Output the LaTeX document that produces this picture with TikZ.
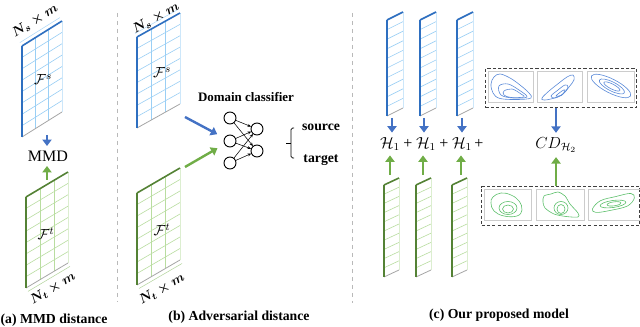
\documentclass[tikz,border=0pt]{standalone}
\usepackage[no-math]{fontspec}
\setmainfont{Liberation Serif}
\usetikzlibrary{arrows.meta}
\definecolor{bdark}{HTML}{2E6FC0}
\definecolor{blight}{HTML}{9ACFF5}
\definecolor{barr}{HTML}{4472C4}
\definecolor{gdark}{HTML}{548235}
\definecolor{glight}{HTML}{B9DDA0}
\definecolor{garr}{HTML}{70AD47}
\definecolor{bcont}{HTML}{5A8AD8}
\definecolor{gcont}{HTML}{5CBF6A}
\newcommand{\FeatMat}[9]{%
 \begin{scope}[shift={(#1,#2)}]
  \fill[white] (0,0) -- (#3,-#4) -- (#3,#5-#4) -- (0,#5) -- cycle;
  \pgfmathtruncatemacro{\fmRows}{#7-1}
  \foreach \i in {1,...,\fmRows}{\draw[#9, line width=0.45pt] (0,{\i*#5/#7}) -- (#3,{\i*#5/#7-#4});}
  \ifnum#6>1 \pgfmathtruncatemacro{\fmCols}{#6-1}
   \foreach \j in {1,...,\fmCols}{\draw[#9, line width=0.45pt] ({\j*#3/#6},{-\j*#4/#6}) -- ({\j*#3/#6},{#5-\j*#4/#6});}\fi
  \draw[#9!50, line width=0.4pt] (#3,-#4) -- (#3,#5-#4);
  \draw[gray!70, line width=0.6pt] (0,#5) -- (#3,#5-#4);
  \draw[#8, line width=1.2pt] (0,0) -- (#3,-#4);
  \draw[#8, line width=1.8pt] (0,#5) -- (0,0);
 \end{scope}}
\tikzset{
 barrow/.style={-{Triangle[length=4.8pt,width=6.8pt]}, line width=1.8pt, barr},
 garrow/.style={-{Triangle[length=4.8pt,width=6.8pt]}, line width=1.8pt, garr},
 lbl/.style={font=\fontsize{10.3}{12}\selectfont\bfseries, inner sep=0pt},
 dimlbl/.style={font=\fontsize{10}{12}\selectfont\boldmath, inner sep=0pt},
 flbl/.style={font=\fontsize{11}{13}\selectfont, inner sep=0pt},
 hlbl/.style={font=\fontsize{12}{14}\selectfont},
 neuron/.style={circle, draw, line width=0.7pt, minimum size=9pt, inner sep=0pt},
 nnarrow/.style={-{Stealth[length=2.6pt,width=2.2pt]}, line width=0.4pt},
 sep/.style={gray!55, dashed, line width=0.6pt},
 dbox/.style={draw=black!75, dash pattern=on 2.4pt off 1.6pt, line width=0.9pt, inner sep=0pt, anchor=north west},
 pframe/.style={draw=gray!40, line width=0.6pt},
 bc/.style={bcont, line width=0.45pt},
 gc/.style={gcont, line width=0.45pt},
}
\begin{document}
\begin{tikzpicture}[x=0.75pt,y=-0.75pt]
\useasboundingbox (0,0) rectangle (640,327);
% separators
\draw[sep] (117,13) -- (117,302);
\draw[sep] (352,13) -- (352,303);

% ---------------- (a) ----------------
\FeatMat{22}{46}{40}{25}{91}{3}{8}{bdark}{blight}
\FeatMat{26}{197}{42}{25}{91}{3}{8}{gdark}{glight}
\draw[blight!80, line width=0.4pt] (19.9,42.6) -- (59.9,17.6);
\draw[glight!90!gray, line width=0.4pt] (28.0,291.4) -- (70.0,266.4);
\node[dimlbl, rotate=32] (nsa) at (35,21) {$N_s\times m$};
\node[dimlbl, rotate=31] (nta) at (53,288) {$N_t\times m$};
\node[flbl] (fsa) at (43,80) {$\mathcal{F}^s$};
\node[flbl] (fta) at (46,234) {$\mathcal{F}^t$};
\node[font=\fontsize{12}{14}\selectfont] (mmd) at (48,156) {MMD};
\coordinate (ma) at (47,135);
\coordinate (mb) at (47,180);
\draw[barrow] (ma) -- (ma |- mmd.north);
\draw[garrow] (mb) -- (mb |- mmd.south);
\node[lbl] (capa) at (54,320) {(a) MMD distance};

% ---------------- (b) ----------------
\FeatMat{137}{37}{43}{24}{91}{3}{8}{bdark}{blight}
\FeatMat{137}{193}{43}{25}{92}{3}{8}{gdark}{glight}
\draw[blight!80, line width=0.4pt] (135,33.5) -- (178,9.5);
\draw[glight!90!gray, line width=0.4pt] (139,288.5) -- (182,263.5);
\node[dimlbl, rotate=29] (nsb) at (156,18) {$N_s\times m$};
\node[dimlbl, rotate=30] (ntb) at (162,289) {$N_t\times m$};
\node[flbl] (fsb) at (162,73) {$\mathcal{F}^s$};
\node[flbl] (ftb) at (162,230) {$\mathcal{F}^t$};
\node[lbl, font=\fontsize{9.7}{12}\selectfont\bfseries] (dc) at (246,97) {Domain classifier};
\node[neuron] (i1) at (230,118) {};
\node[neuron] (i2) at (230,141) {};
\node[neuron] (i3) at (230,163) {};
\node[neuron] (o1) at (257,129) {};
\node[neuron] (o2) at (257,151) {};
\foreach \a in {i1,i2,i3}{\foreach \b in {o1,o2}{\draw[nnarrow] (\a) -- (\b);}}
\coordinate (bn) at (185,117);
\coordinate (gn) at (185,167);
\draw[barrow, shorten >=6pt] (bn) -- (i2);
\draw[garrow, shorten >=6pt] (gn) -- (i2);
\draw[line width=0.6pt, rounded corners=1.2pt] (294,128) -- (291,128) -- (291,158) -- (294,158);
\draw[line width=0.6pt] (286,143) -- (291,143);
\node[lbl] (src) at (321,127) {source};
\node[lbl] (tgt) at (321,160) {target};
\node[lbl] (capb) at (239,317) {(b) Adversarial distance};

% ---------------- (c) ----------------
\FeatMat{387}{20}{16}{8}{96}{1}{10}{bdark}{blight}
\FeatMat{420}{20}{16}{8}{96}{1}{10}{bdark}{blight}
\FeatMat{457}{20}{16}{8}{96}{1}{10}{bdark}{blight}
\FeatMat{384}{185}{15}{7}{92}{1}{10}{gdark}{glight}
\FeatMat{416}{185}{15}{7}{92}{1}{10}{gdark}{glight}
\FeatMat{452}{185}{15}{7}{92}{1}{10}{gdark}{glight}
\node[hlbl] (h1) at (390,144) {$\mathcal{H}_1$};
\node[hlbl] (p1) at (408,144) {+};
\node[hlbl] (h2) at (426,144) {$\mathcal{H}_1$};
\node[hlbl] (p2) at (444,144) {+};
\node[hlbl] (h3) at (462,144) {$\mathcal{H}_1$};
\node[hlbl] (p3) at (479,144) {+};
\coordinate (cb1) at (392,118); \coordinate (cb2) at (424,118); \coordinate (cb3) at (462,118);
\coordinate (cg1) at (390,175); \coordinate (cg2) at (423,175); \coordinate (cg3) at (461,175);
\draw[barrow] (cb1) -- (cb1 |- h1.north);
\draw[barrow] (cb2) -- (cb2 |- h2.north);
\draw[barrow] (cb3) -- (cb3 |- h3.north);
\draw[garrow] (cg1) -- (cg1 |- h1.south);
\draw[garrow] (cg2) -- (cg2 |- h2.south);
\draw[garrow] (cg3) -- (cg3 |- h3.south);

\node[hlbl] (cd) at (556,145) {$CD_{\mathcal{H}_2}$};
\node[dbox, minimum width=113.25pt, minimum height=29.25pt] (tbox) at (485,68) {};
\node[dbox, minimum width=118.5pt, minimum height=29.25pt] (bbox) at (481,186) {};
\draw[barrow] (tbox.south -| cd) -- (cd);
\draw[garrow] (bbox.north -| cd) -- (cd);

% top contour panels
\draw[pframe] (488,71) rectangle (533,102);
\draw[pframe] (537,71) rectangle (582,102);
\draw[pframe] (587,71) rectangle (634,102);
\begin{scope}[shift={(488,71)}]
 \draw[bc] plot[smooth cycle, tension=0.6] coordinates {(6,6) (12,3) (22,7) (32,14) (41,22) (43,27) (30,28.5) (12,27.5) (5,22) (3,13)};
 \draw[bc] plot[smooth cycle, tension=0.6] coordinates {(11,15) (20,13) (31,19) (39,26) (25,27) (13,24)};
 \draw[bc] plot[smooth cycle, tension=0.6] coordinates {(16,20) (24,18) (33,23) (36,26) (23,26.5) (16,24)};
\end{scope}
\begin{scope}[shift={(537,71)}]
 \draw[bc] plot[smooth cycle, tension=0.6] coordinates {(5,27) (12,20) (22,12) (30,6) (36,4) (37,9) (32,16) (26,23) (16,27.5) (7,29)};
 \draw[bc] plot[smooth cycle, tension=0.6] coordinates {(14,25) (21,19) (28,14) (31,16) (26,23) (18,27)};
 \draw[bc] plot[smooth cycle, tension=0.6] coordinates {(19,25) (25,20) (28,19) (25,24)};
\end{scope}
\begin{scope}[shift={(611,86)}, rotate=-27]
 \draw[bc] (0,0) ellipse [x radius=22, y radius=7];
 \draw[bc] (1,0) ellipse [x radius=14, y radius=4.5];
 \draw[bc] (1,0) ellipse [x radius=9, y radius=2.5];
\end{scope}

% bottom contour panels
\draw[pframe] (484,189) rectangle (531,220);
\draw[pframe] (536,189) rectangle (584,220);
\draw[pframe] (588,189) rectangle (645,220);
\begin{scope}[shift={(484,189)}]
 \draw[gc] plot[smooth cycle, tension=0.7] coordinates {(9,8) (17,4) (27,6) (35,12) (38,21) (33,27) (20,27) (10,22) (7,14)};
 \draw[gc] (24,19) ellipse [x radius=9, y radius=6.5];
 \draw[gc] (24,20) ellipse [x radius=5.5, y radius=4];
\end{scope}
\begin{scope}[shift={(536,189)}]
 \draw[gc] plot[smooth cycle, tension=0.5] coordinates {(8,7) (15,5) (22,3) (29,7) (34,15) (42,24) (42,28) (30,27.5) (18,25) (9,19) (7,13)};
 \draw[gc] (25,19) ellipse [x radius=7, y radius=6.5];
 \draw[gc] (25,20) ellipse [x radius=4, y radius=4.5];
\end{scope}
\begin{scope}[shift={(613,204)}, rotate=8]
 \draw[gc] plot[smooth cycle, tension=0.6] coordinates {(-21,2) (-12,-5) (4,-7) (19,-8) (22,-3) (14,4) (-4,6) (-18,6)};
 \draw[gc] (0,0) ellipse [x radius=13, y radius=3.5];
 \draw[gc] (1,0) ellipse [x radius=7, y radius=2];
\end{scope}
\node[lbl] (capc) at (499,315) {(c) Our proposed model};
\end{tikzpicture}
\end{document}
